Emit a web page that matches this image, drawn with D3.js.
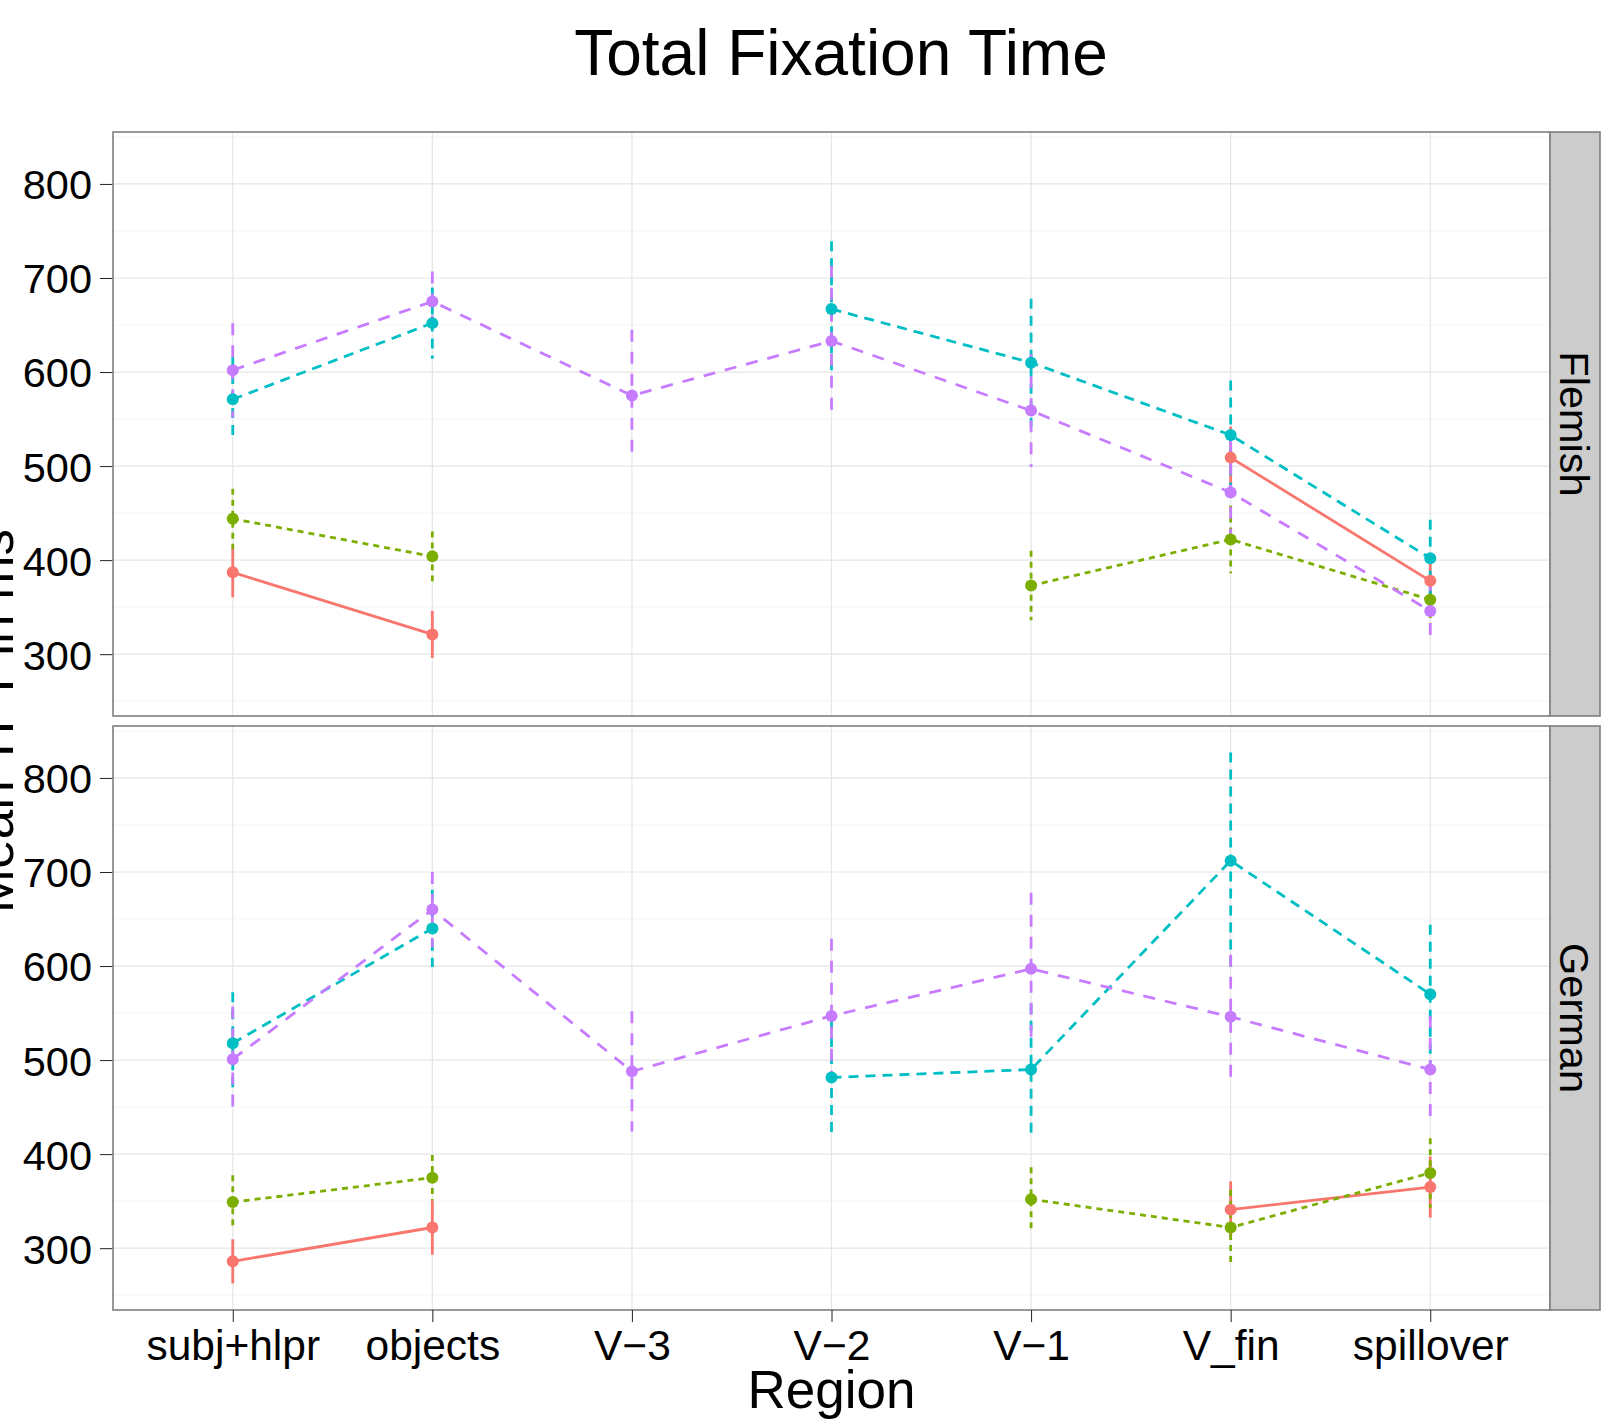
<!DOCTYPE html>
<html>
<head>
<meta charset="utf-8">
<script src="https://d3js.org/d3.v7.min.js"></script>
<style>
    body { margin: 0; background: #fff; }
    text { font-family: "Liberation Sans", Arial, Helvetica, sans-serif; fill: #000; }
</style>
</head>
<body>
<div id="chart"></div>
<script>
// regions on the x axis
var regions = ["subj+hlpr", "objects", "V\u22123", "V\u22122", "V\u22121", "V_fin", "spillover"];
var panels = ["Flemish", "German"];
var yTicks = [300, 400, 500, 600, 700, 800];

// Flemish means / error half widths (null = no data)
var flemishRed = [387, 321, null, null, null, 509, 378];
var flemishRedErr = [26.5, 25, null, null, null, 33, 20];
var flemishGreen = [444, 404, null, null, 373, 422, 358];
var flemishGreenErr = [32, 26.5, null, null, 37, 36, 22];
var flemishCyan = [571, 652, null, 667, 610, 533, 402];
var flemishCyanErr = [45, 38, null, 72, 68, 58, 41];
var flemishPurple = [602, 675, 575, 633, 559, 472, 346];
var flemishPurpleErr = [50, 32, 70, 80, 60, 55, 34];

// German
var germanRed = [286, 322, null, null, null, 341, 365];
var germanRedErr = [23.5, 29, null, null, null, 30, 32.5];
var germanGreen = [349, 375, null, null, 352, 322, 380];
var germanGreenErr = [28.5, 24, null, null, 34, 40, 37];
var germanCyan = [518, 640, null, 481.5, 490, 712, 570];
var germanCyanErr = [54, 41, null, 61, 70, 115, 74];
var germanPurple = [501, 660, 488, 547, 597, 546, 490];
var germanPurpleErr = [56, 40, 64, 82, 81, 66, 57];

var seriesStyle = [
    {color: "#F8766D", dash: null},
    {color: "#7CAE00", dash: "6,5"},
    {color: "#00BFC4", dash: "10,7"},
    {color: "#C77CFF", dash: "12,10"}
];

var panelData = [
    [[flemishRed, flemishRedErr], [flemishGreen, flemishGreenErr], [flemishCyan, flemishCyanErr], [flemishPurple, flemishPurpleErr]],
    [[germanRed, germanRedErr], [germanGreen, germanGreenErr], [germanCyan, germanCyanErr], [germanPurple, germanPurpleErr]]
];

var width = 1610, height = 1421;
var left = 113, right = 1550, stripW = 50;
var panelTops = [132, 726], panelH = 584;

var svg = d3.select("#chart").append("svg")
        .attr("width", width)
        .attr("height", height);

// y domain from the data, expanded 5% like ggplot
var lo = Infinity, hi = -Infinity;
panelData.forEach(function (p) {
    p.forEach(function (s) {
        s[0].forEach(function (v, i) {
            if (v === null) return;
            lo = Math.min(lo, v - s[1][i]);
            hi = Math.max(hi, v + s[1][i]);
        });
    });
});
var pad = (hi - lo) * 0.05;

var x = d3.scalePoint()
        .domain(regions)
        .range([left, right])
        .padding(0.6);

var minorTicks = d3.range(250, 900, 100);

panels.forEach(function (name, p) {
    var top = panelTops[p];
    var y = d3.scaleLinear()
            .domain([lo - pad, hi + pad])
            .range([top + panelH, top]);

    var g = svg.append("g");

    // minor + major grid
    g.selectAll(".minor").data(minorTicks.filter(function (d) { return y(d) > top && y(d) < top + panelH; }))
            .enter().append("line")
            .attr("x1", left).attr("x2", right)
            .attr("y1", function (d) { return y(d); })
            .attr("y2", function (d) { return y(d); })
            .attr("stroke", "#F7F7F7").attr("stroke-width", 1.2);
    g.selectAll(".major").data(yTicks)
            .enter().append("line")
            .attr("x1", left).attr("x2", right)
            .attr("y1", function (d) { return y(d); })
            .attr("y2", function (d) { return y(d); })
            .attr("stroke", "#E5E5E5").attr("stroke-width", 1.2);
    g.selectAll(".vgrid").data(regions)
            .enter().append("line")
            .attr("x1", function (d) { return x(d); })
            .attr("x2", function (d) { return x(d); })
            .attr("y1", top).attr("y2", top + panelH)
            .attr("stroke", "#E5E5E5").attr("stroke-width", 1.2);

    // y axis
    var yAxis = g.append("g")
            .attr("transform", "translate(" + left + ",0)")
            .call(d3.axisLeft(y).tickValues(yTicks).tickSize(13).tickPadding(8));
    yAxis.select(".domain").remove();
    yAxis.selectAll("line").attr("stroke", "#222");
    yAxis.selectAll("text").style("font-size", "41.5px").attr("fill", "#000")
            .attr("dy", "0.36em");

    var series = panelData[p];

    // error bars
    series.forEach(function (s, k) {
        var pts = regions.map(function (r, i) { return {r: r, v: s[0][i], e: s[1][i]}; })
                .filter(function (d) { return d.v !== null; });
        g.selectAll(".err" + k).data(pts)
                .enter().append("line")
                .attr("x1", function (d) { return x(d.r); })
                .attr("x2", function (d) { return x(d.r); })
                .attr("y1", function (d) { return y(d.v + d.e); })
                .attr("y2", function (d) { return y(d.v - d.e); })
                .attr("stroke", seriesStyle[k].color)
                .attr("stroke-width", 2.8)
                .attr("stroke-dasharray", seriesStyle[k].dash);
    });

    // lines, broken where a region has no data
    series.forEach(function (s, k) {
        var line = d3.line()
                .defined(function (d) { return d !== null; })
                .x(function (d, i) { return x(regions[i]); })
                .y(function (d) { return y(d); });
        g.append("path")
                .attr("d", line(s[0]))
                .attr("fill", "none")
                .attr("stroke", seriesStyle[k].color)
                .attr("stroke-width", 2.8)
                .attr("stroke-dasharray", seriesStyle[k].dash);
    });

    // points
    series.forEach(function (s, k) {
        var pts = regions.map(function (r, i) { return {r: r, v: s[0][i]}; })
                .filter(function (d) { return d.v !== null; });
        g.selectAll(".pt" + k).data(pts)
                .enter().append("circle")
                .attr("cx", function (d) { return x(d.r); })
                .attr("cy", function (d) { return y(d.v); })
                .attr("r", 6)
                .attr("fill", seriesStyle[k].color);
    });

    // panel border
    g.append("rect")
            .attr("x", left).attr("y", top)
            .attr("width", right - left).attr("height", panelH)
            .attr("fill", "none")
            .attr("stroke", "#7F7F7F").attr("stroke-width", 1.6);

    // facet strip
    g.append("rect")
            .attr("x", right).attr("y", top)
            .attr("width", stripW).attr("height", panelH)
            .attr("fill", "#CCCCCC")
            .attr("stroke", "#7F7F7F").attr("stroke-width", 1.6);
    g.append("text")
            .attr("transform", "translate(" + (right + stripW / 2) + "," + (top + panelH / 2) + ") rotate(90)")
            .attr("text-anchor", "middle")
            .attr("dy", "0.36em")
            .style("font-size", "41.5px")
            .text(name);

    // x axis only under the last panel
    if (p === panels.length - 1) {
        var xAxis = g.append("g")
                .attr("transform", "translate(0," + (top + panelH) + ")")
                .call(d3.axisBottom(x).tickSize(12).tickPadding(8));
        xAxis.select(".domain").remove();
        xAxis.selectAll("line").attr("stroke", "#222");
        xAxis.selectAll("text").style("font-size", "42.5px").attr("fill", "#000");
    }
});

// title and axis titles
svg.append("text")
        .attr("x", 841).attr("y", 75)
        .attr("text-anchor", "middle")
        .style("font-size", "64px")
        .text("Total Fixation Time");

svg.append("text")
        .attr("x", (left + right) / 2).attr("y", 1408)
        .attr("text-anchor", "middle")
        .style("font-size", "53px")
        .text("Region");

svg.append("text")
        .attr("transform", "translate(13," + ((panelTops[0] + panelTops[1] + panelH) / 2) + ") rotate(-90)")
        .attr("text-anchor", "middle")
        .style("font-size", "53px")
        .text("Mean TFT in ms");
</script>
</body>
</html>
